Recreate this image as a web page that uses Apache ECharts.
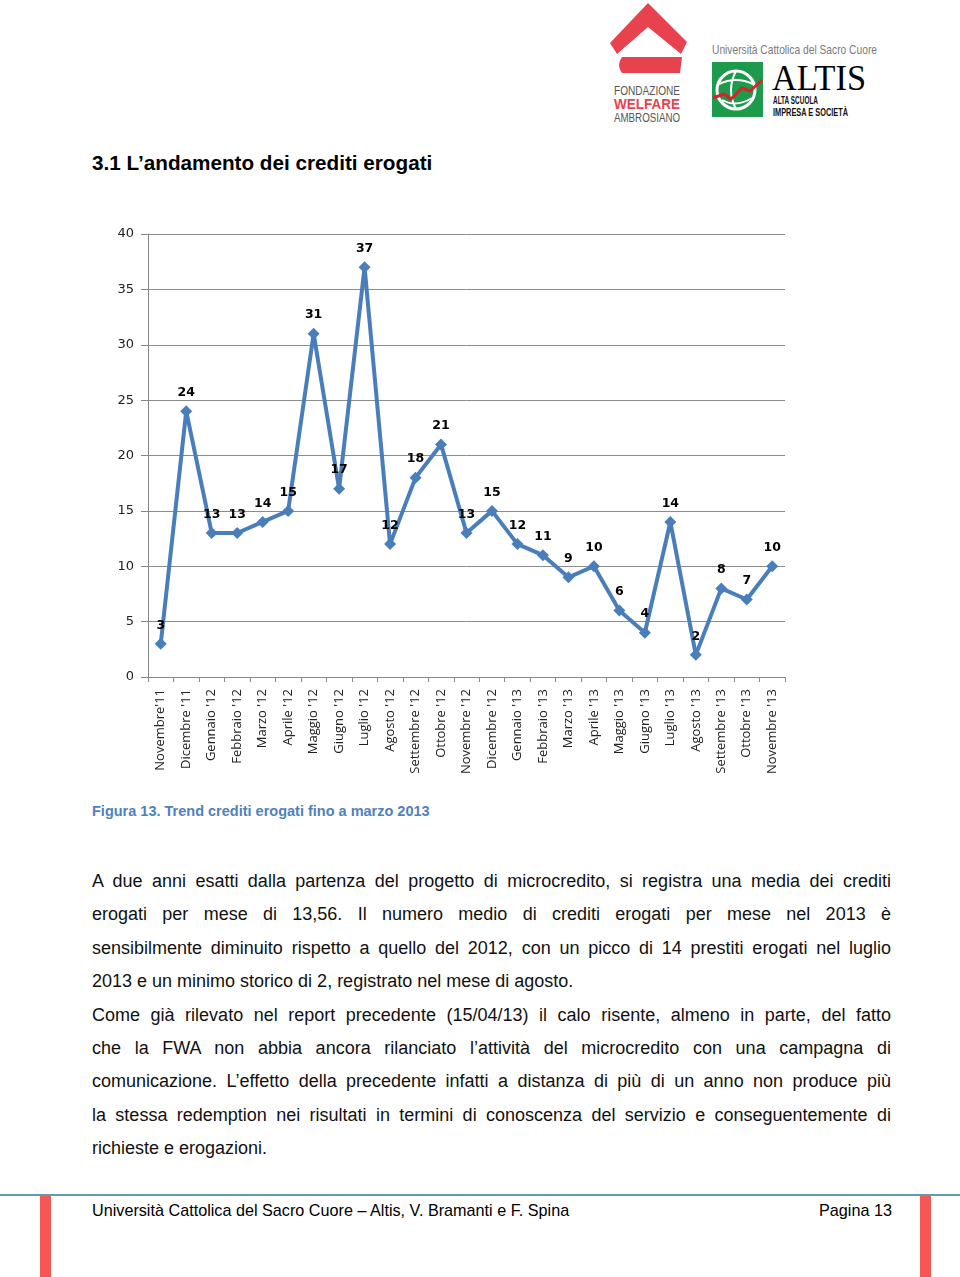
<!DOCTYPE html>
<html><head><meta charset="utf-8">
<script src="https://cdn.jsdelivr.net/npm/echarts@6/dist/echarts.min.js"></script>
<style>
html,body{margin:0;padding:0;background:#fff;}
body{width:960px;height:1277px;position:relative;overflow:hidden;font-family:"Liberation Sans",Arial,sans-serif;color:#000;}
.abs{position:absolute;}
#title{left:92px;top:151px;font-size:20.7px;font-weight:bold;white-space:nowrap;}
#caption{left:92px;top:803px;font-size:14.5px;font-weight:bold;color:#4F81BD;white-space:nowrap;}
#para{left:92px;top:865px;width:799px;font-size:18px;line-height:33.4px;color:#111;}
.j{text-align:justify;text-align-last:justify;white-space:nowrap;}
.l{text-align:left;white-space:nowrap;}
#footline{left:0;top:1194px;width:960px;height:2px;background:#5f9ea8;}
.redbar{top:1196px;width:11px;height:81px;background:#f55656;}
#footl{left:92px;top:1201px;font-size:16.2px;white-space:nowrap;}
#footr{left:819px;top:1201px;font-size:16.2px;white-space:nowrap;}
#chart{left:0;top:190px;width:960px;height:600px;}
#logo{left:600px;top:0;width:300px;height:130px;}
</style></head>
<body>
<svg id="logo" class="abs" width="300" height="130" viewBox="600 0 300 130">
  <polygon points="648,3 687,42 681,54 648,27 617,54 610,43" fill="#e8424f"/>
  <path d="M622,57 L682,57 L680,73 L622,73 Q616,65 622,57 Z" fill="#e8424f"/>
  <text x="647" y="95" text-anchor="middle" font-family="Liberation Sans Narrow,Liberation Sans,Arial" font-size="13" fill="#555" textLength="66" lengthAdjust="spacingAndGlyphs">FONDAZIONE</text>
  <text x="647" y="109" text-anchor="middle" font-family="Liberation Sans Narrow,Liberation Sans,Arial" font-size="14" font-weight="bold" fill="#e8424f" textLength="66" lengthAdjust="spacingAndGlyphs">WELFARE</text>
  <text x="647" y="122" text-anchor="middle" font-family="Liberation Sans Narrow,Liberation Sans,Arial" font-size="13" fill="#555" textLength="66" lengthAdjust="spacingAndGlyphs">AMBROSIANO</text>
  <text x="712" y="54" font-family="Liberation Sans Narrow,Liberation Sans,Arial" font-size="13" fill="#7a7a7a" textLength="165" lengthAdjust="spacingAndGlyphs">Università Cattolica del Sacro Cuore</text>
  <rect x="712" y="62" width="51" height="55" fill="#1e9a4c"/>
  <circle cx="736" cy="90" r="19" fill="none" stroke="#fff" stroke-width="3"/>
  <path d="M719,84 Q736,76 753,84 M722,100 Q736,108 752,98 M736,71 Q726,90 736,109" fill="none" stroke="#fff" stroke-width="2"/>
  <polyline points="713,98 724,94 731,99 742,88 750,91 762,80" fill="none" stroke="#d8232a" stroke-width="3"/>
  <text x="772" y="90" font-family="Liberation Serif,Times New Roman,serif" font-size="36" fill="#000" textLength="94" lengthAdjust="spacingAndGlyphs">ALTIS</text>
  <text x="773" y="104" font-family="Liberation Sans,Arial" font-size="10" font-weight="bold" fill="#111" textLength="45" lengthAdjust="spacingAndGlyphs">ALTA SCUOLA</text>
  <text x="773" y="116" font-family="Liberation Sans,Arial" font-size="10" font-weight="bold" fill="#111" textLength="75" lengthAdjust="spacingAndGlyphs">IMPRESA E SOCIETÀ</text>
</svg>
<div id="title" class="abs">3.1 L’andamento dei crediti erogati</div>
<div id="chart" class="abs"></div>
<div id="caption" class="abs">Figura 13. Trend crediti erogati fino a marzo 2013</div>
<div id="para" class="abs">
<div class="j">A due anni esatti dalla partenza del progetto di microcredito, si registra una media dei crediti</div>
<div class="j">erogati per mese di 13,56. Il numero medio di crediti erogati per mese nel 2013 è</div>
<div class="j">sensibilmente diminuito rispetto a quello del 2012, con un picco di 14 prestiti erogati nel luglio</div>
<div class="l">2013 e un minimo storico di 2, registrato nel mese di agosto.</div>
<div class="j">Come già rilevato nel report precedente (15/04/13) il calo risente, almeno in parte, del fatto</div>
<div class="j">che la FWA non abbia ancora rilanciato l’attività del microcredito con una campagna di</div>
<div class="j">comunicazione. L’effetto della precedente infatti a distanza di più di un anno non produce più</div>
<div class="j">la stessa redemption nei risultati in termini di conoscenza del servizio e conseguentemente di</div>
<div class="l">richieste e erogazioni.</div>
</div>
<div id="footline" class="abs"></div>
<div class="abs redbar" style="left:40px"></div>
<div class="abs redbar" style="left:920px"></div>
<div id="footl" class="abs">Università Cattolica del Sacro Cuore – Altis, V. Bramanti e F. Spina</div>
<div id="footr" class="abs">Pagina 13</div>
<script>
var categories = ["Novembre'11","Dicembre '11","Gennaio '12","Febbraio '12","Marzo '12","Aprile '12","Maggio '12","Giugno '12","Luglio '12","Agosto '12","Settembre '12","Ottobre '12","Novembre '12","Dicembre '12","Gennaio '13","Febbraio '13","Marzo '13","Aprile '13","Maggio '13","Giugno '13","Luglio '13","Agosto '13","Settembre '13","Ottobre '13","Novembre '13"];
var crediti = [3,24,13,13,14,15,31,17,37,12,18,21,13,15,12,11,9,10,6,4,14,2,8,7,10];
var yMin = 0, yMax = 40, yStep = 5;

var chart = echarts.init(document.getElementById('chart'), null, {renderer:'canvas'});
chart.setOption({
  animation:false,
  grid:{left:148,right:175,top:44,bottom:113,containLabel:false},
  xAxis:{
    type:'category',data:categories,boundaryGap:true,
    axisLine:{lineStyle:{color:'#868686',width:1}},
    axisTick:{show:true,alignWithLabel:false,length:5,lineStyle:{color:'#868686'}},
    axisLabel:{rotate:90,interval:0,color:'#222',fontSize:13,margin:12,
      fontFamily:'"Liberation Sans Narrow","Open Sans",sans-serif'}
  },
  yAxis:{
    type:'value',min:yMin,max:yMax,interval:yStep,
    axisLine:{show:true,lineStyle:{color:'#868686',width:1}},
    axisTick:{show:true,length:7,lineStyle:{color:'#868686'}},
    splitLine:{lineStyle:{color:'#8c8c8c',width:1}},
    axisLabel:{color:'#222',fontSize:13,margin:14,fontFamily:'"DejaVu Sans",Verdana,sans-serif'}
  },
  series:[{
    type:'line',data:crediti,
    lineStyle:{color:'#4A7EBB',width:4},
    itemStyle:{color:'#4A7EBB'},
    symbol:'diamond',symbolSize:12,showAllSymbol:true,
    label:{show:true,position:'top',distance:6,color:'#000',fontWeight:'bold',fontSize:12.5,
      fontFamily:'"DejaVu Sans",Verdana,sans-serif'}
  }]
});
</script>
</body></html>
